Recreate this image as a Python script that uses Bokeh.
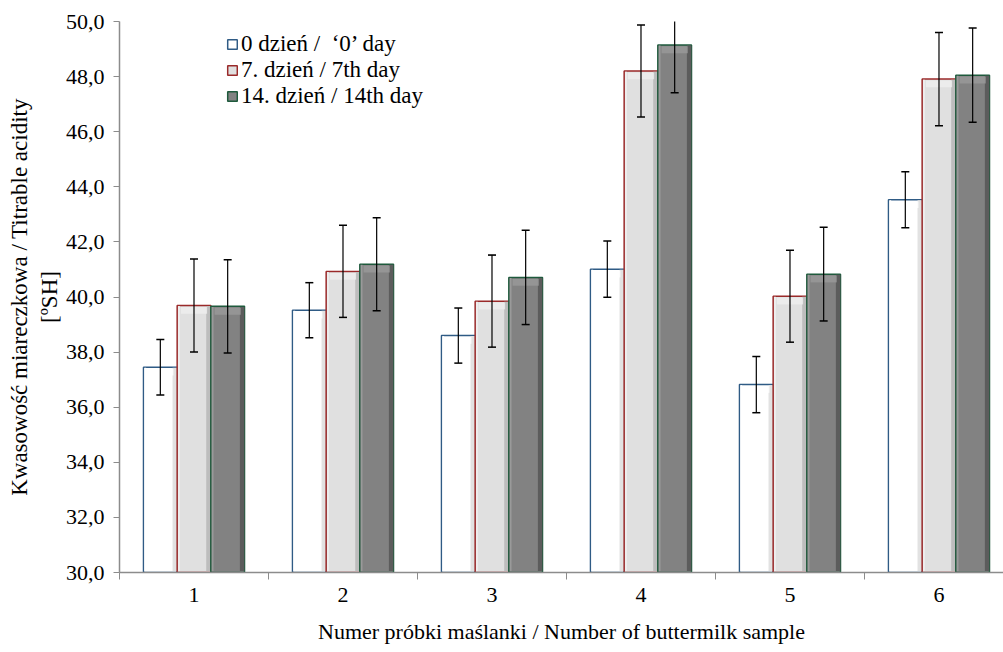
from bokeh.plotting import figure
from bokeh.models import ColumnDataSource, FixedTicker, Legend, LegendItem
from bokeh.embed import file_html
from bokeh.resources import INLINE

samples = ["1", "2", "3", "4", "5", "6"]
series_names = ["0 dzień /  \u20180\u2019 day", "7. dzień / 7th day", "14. dzień / 14th day"]
day0 = [37.45, 39.52, 38.60, 41.01, 36.82, 43.53]
day0_err = [1.01, 1.00, 1.00, 1.02, 1.02, 1.02]
day7 = [39.69, 40.93, 39.85, 48.20, 40.03, 47.91]
day7_err = [1.69, 1.67, 1.67, 1.67, 1.67, 1.69]
day14 = [39.66, 41.19, 40.71, 49.15, 40.83, 48.05]
day14_err = [1.69, 1.69, 1.71, 1.74, 1.70, 1.71]
y_ticks = [30, 32, 34, 36, 38, 40, 42, 44, 46, 48, 50]

FONT = "Liberation Serif"
FS = "22px"
BW = 0.226

p = figure(width=1003, height=652, output_backend="svg", toolbar_location=None,
           x_range=(0.5, 6.433), y_range=(30, 50),
           min_border_left=119, min_border_right=0, min_border_top=21, min_border_bottom=80)
p.outline_line_color = None
p.xgrid.visible = False
p.ygrid.visible = False
p.background_fill_color = "white"
p.border_fill_color = "white"

styles = [
    dict(fill="#ffffff", edge="#e2e2e2", left="#ffffff", line="#2f5b85"),
    dict(fill="#e0e0e0", edge="#bdbdbd", left="#efefef", line="#9a2a2a"),
    dict(fill="#828282", edge="#5c5c5c", left="#9a9a9a", line="#1e5a3c"),
]
values = [day0, day7, day14]
errs = [day0_err, day7_err, day14_err]
offsets = [-BW, 0.0, BW]

x_idx = [i + 1 for i in range(len(samples))]
items = []
for k in range(3):
    xs = [x + offsets[k] for x in x_idx]
    src = ColumnDataSource(dict(
        x=xs, top=values[k],
        xr=[x + BW / 2 - 0.016 for x in xs],
        xl=[x - BW / 2 + 0.012 for x in xs],
        ttop=[v - 0.02 for v in values[k]],
        htop=[v - 0.05 for v in values[k]],
        hbot=[v - 0.3 for v in values[k]],
    ))
    st = styles[k]
    r = p.vbar(x="x", top="top", bottom=30, width=BW, source=src,
               fill_color=st["fill"], line_color=st["line"], line_width=1.5)
    p.vbar(x="xr", top="ttop", bottom=30.05, width=0.03, source=src,
           fill_color=st["edge"], line_color=None)
    p.vbar(x="xl", top="ttop", bottom=30.05, width=0.012, source=src,
           fill_color=st["left"], line_color=None)
    p.vbar(x="x", top="htop", bottom="hbot", width=BW - 0.05, source=src,
           fill_color=st["left"], line_color=None, fill_alpha=0.8)
    items.append(LegendItem(label=series_names[k], renderers=[r]))

for k in range(3):
    xs = [x + offsets[k] for x in x_idx]
    src = ColumnDataSource(dict(
        x=xs,
        lo=[v - e for v, e in zip(values[k], errs[k])],
        hi=[v + e for v, e in zip(values[k], errs[k])],
    ))
    p.segment(x0="x", y0="lo", x1="x", y1="hi", source=src, line_color="black", line_width=1.2)
    p.dash(x="x", y="lo", size=8, source=src, line_color="black", line_width=1.5)
    p.dash(x="x", y="hi", size=8, source=src, line_color="black", line_width=1.5)

legend = Legend(items=items, location=(107, 463), border_line_color=None,
                background_fill_alpha=0, padding=0, margin=0, spacing=0,
                glyph_width=12, glyph_height=12, label_standoff=3, label_height=25,
                label_text_font=FONT, label_text_font_size="23px",
                label_text_color="#000000")
p.add_layout(legend, "center")

p.xaxis.ticker = FixedTicker(ticks=x_idx, minor_ticks=[0.5, 1.5, 2.5, 3.5, 4.5, 5.5, 6.5])
p.xaxis.major_label_overrides = {i + 1: s for i, s in enumerate(samples)}
p.xaxis.major_tick_out = 0
p.xaxis.major_tick_in = 0
p.xaxis.minor_tick_out = 7
p.xaxis.minor_tick_in = 0
p.xaxis.minor_tick_line_color = "#8c8c8c"
p.xaxis.axis_line_color = "#8c8c8c"
p.xaxis.axis_line_width = 1.5
p.xaxis.major_label_text_font = FONT
p.xaxis.major_label_text_font_size = FS
p.xaxis.major_label_text_color = "#000000"
p.xaxis.major_label_standoff = 8
p.xaxis.axis_label = "Numer próbki maślanki / Number of buttermilk sample"
p.xaxis.axis_label_text_font = FONT
p.xaxis.axis_label_text_font_size = FS
p.xaxis.axis_label_text_font_style = "normal"
p.xaxis.axis_label_text_color = "#000000"
p.xaxis.axis_label_standoff = 14

p.yaxis.ticker = FixedTicker(ticks=y_ticks, minor_ticks=[])
p.yaxis.major_label_overrides = {t: f"{t},0" for t in y_ticks}
p.yaxis.major_tick_out = 6
p.yaxis.major_tick_in = 0
p.yaxis.major_tick_line_color = "#8c8c8c"
p.yaxis.axis_line_color = "#8c8c8c"
p.yaxis.axis_line_width = 1.5
p.yaxis.major_label_text_font = FONT
p.yaxis.major_label_text_font_size = FS
p.yaxis.major_label_text_color = "#000000"
p.yaxis.major_label_standoff = 9
p.yaxis.axis_label = "Kwasowość miareczkowa / Titrable acidity\n[ºSH]"
p.yaxis.axis_label_text_font = FONT
p.yaxis.axis_label_text_font_size = "23px"
p.yaxis.axis_label_text_font_style = "normal"
p.yaxis.axis_label_text_color = "#000000"
p.yaxis.axis_label_standoff = 1

open("out.html", "w").write(file_html(p, INLINE))
